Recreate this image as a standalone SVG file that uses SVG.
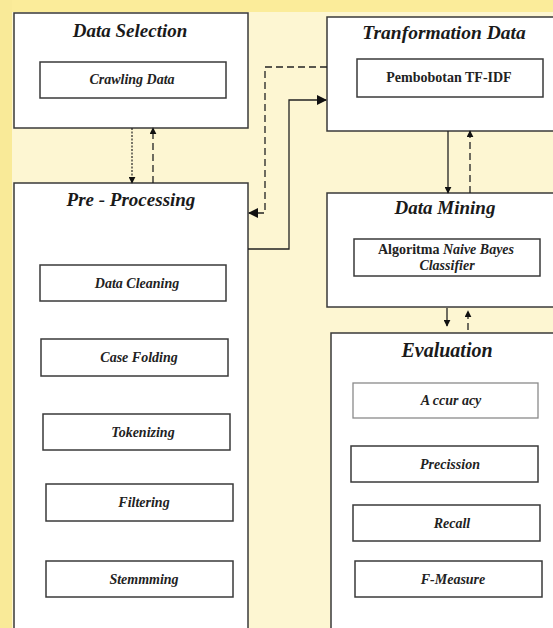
<svg xmlns="http://www.w3.org/2000/svg" width="553" height="628" viewBox="0 0 553 628">
<defs>
<style>
.outer{fill:#ffffff;stroke:#3a3a3a;stroke-width:1.5}
.inner{fill:#ffffff;stroke:#3a3a3a;stroke-width:1.5}
.light{fill:#ffffff;stroke:#8a8a8a;stroke-width:1.3}
.title{font-family:"Liberation Serif","Times New Roman",serif;font-weight:bold;font-style:italic;font-size:19px;fill:#1a1a1a;text-anchor:middle}
.lbl{font-family:"Liberation Serif","Times New Roman",serif;font-weight:bold;font-style:italic;font-size:14px;fill:#222;text-anchor:middle}
.lblb{font-family:"Liberation Serif","Times New Roman",serif;font-weight:bold;font-size:14px;fill:#222;text-anchor:middle}
.solid{fill:none;stroke:#222;stroke-width:1.3}
.dash{fill:none;stroke:#222;stroke-width:1.3;stroke-dasharray:7 4}
.dot{fill:none;stroke:#222;stroke-width:1.2;stroke-dasharray:2 1.5}
</style>
<marker id="ah" viewBox="0 0 10 10" refX="9" refY="5" markerWidth="7" markerHeight="7" markerUnits="userSpaceOnUse" orient="auto">
<path d="M0,0 L10,5 L0,10 z" fill="#111"/>
</marker>
<marker id="ahb" viewBox="0 0 10 10" refX="9" refY="5" markerWidth="10" markerHeight="10" markerUnits="userSpaceOnUse" orient="auto">
<path d="M0,0 L10,5 L0,10 z" fill="#111"/>
</marker>
</defs>
<rect x="0" y="0" width="553" height="628" fill="#fdf6d2"/>
<rect x="0" y="0" width="553" height="12" fill="#fbec9a"/>
<rect x="0" y="0" width="12" height="628" fill="#f9ea98"/>

<g id="data-selection">
<rect class="outer" x="14" y="13" width="234" height="115"/>
<text class="title" x="130" y="37">Data Selection</text>
<rect class="inner" x="40" y="62" width="186" height="36"/>
<text class="lbl" x="132" y="84">Crawling Data</text>
</g>

<g id="pre-processing">
<rect class="outer" x="14" y="183" width="234" height="460"/>
<text class="title" x="131" y="206">Pre - Processing</text>
<rect class="inner" x="40" y="265" width="186" height="36"/>
<text class="lbl" x="137" y="288">Data Cleaning</text>
<rect class="inner" x="41" y="339" width="187" height="37"/>
<text class="lbl" x="139" y="362">Case Folding</text>
<rect class="inner" x="43" y="414" width="187" height="36"/>
<text class="lbl" x="143" y="437">Tokenizing</text>
<rect class="inner" x="46" y="484" width="187" height="37"/>
<text class="lbl" x="144" y="507">Filtering</text>
<rect class="inner" x="46" y="561" width="187" height="36"/>
<text class="lbl" x="144" y="584">Stemmming</text>
</g>

<g id="transformation-data">
<rect class="outer" x="327" y="17" width="240" height="114"/>
<text class="title" x="444" y="39" style="font-size:19.5px">Tranformation Data</text>
<rect class="inner" x="357" y="59" width="186" height="38"/>
<text class="lblb" x="449" y="82">Pembobotan TF-IDF</text>
</g>

<g id="data-mining">
<rect class="outer" x="327" y="193" width="240" height="114"/>
<text class="title" x="445" y="214">Data Mining</text>
<rect class="inner" x="354" y="239" width="186" height="37"/>
<text class="lblb" x="446" y="254">Algoritma <tspan font-style="italic">Naive Bayes</tspan></text>
<text class="lbl" x="447" y="270">Classifier</text>
</g>

<g id="evaluation">
<rect class="outer" x="331" y="333" width="240" height="310"/>
<text class="title" x="447" y="357" style="font-size:20px">Evaluation</text>
<rect class="light" x="353" y="383" width="185" height="35"/>
<text class="lbl" x="451" y="405">A ccur acy</text>
<rect class="inner" x="351" y="446" width="187" height="36"/>
<text class="lbl" x="450" y="469">Precission</text>
<rect class="inner" x="353" y="505" width="187" height="36"/>
<text class="lbl" x="452" y="528">Recall</text>
<rect class="inner" x="355" y="561" width="187" height="36"/>
<text class="lbl" x="453" y="584">F-Measure</text>
</g>

<g id="connectors">
<path class="dot" d="M132,128 L132,183" marker-end="url(#ah)"/>
<path class="dash" d="M153,183 L153,128" marker-end="url(#ah)"/>
<path class="dash" d="M327,67 L265,67 L265,213 L249,213" marker-end="url(#ahb)"/>
<path class="solid" d="M248,249 L289,249 L289,100 L326,100" marker-end="url(#ahb)"/>
<path class="solid" d="M448,131 L448,193" marker-end="url(#ah)"/>
<path class="dash" d="M470,193 L470,131" marker-end="url(#ah)"/>
<path class="solid" d="M447,308 L447,326" marker-end="url(#ah)"/>
<path class="dash" d="M468,330 L468,311" stroke-dasharray="4 3" marker-end="url(#ah)"/>
</g>
</svg>
